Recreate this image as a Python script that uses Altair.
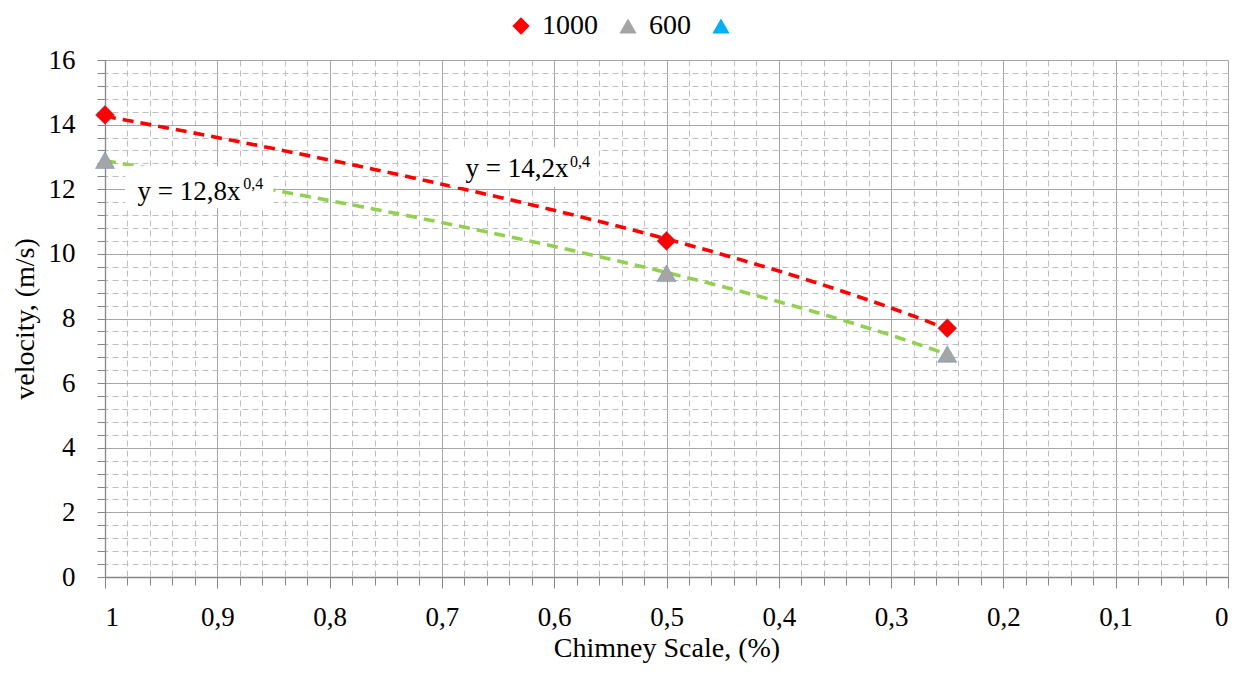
import altair as alt
import pandas as pd
import numpy as np

# ---- data ----
scale_vals = [1.0, 0.5, 0.25]
v_1000 = [14.3, 10.4, 7.7]
v_600 = [12.9, 9.4, 6.9]
series_names = ["1000", "600", "s3"]
series_colors = ["#FF0000", "#A5A5A5", "#00B0F0"]
series_shapes = ["diamond", "triangle-up", "triangle-up"]
trend_colors = ["#FF0000", "#92D050"]

# tick lists
x_ticks = [round(v, 2) for v in np.arange(0, 1.0001, 0.02)]
y_ticks = [round(v, 1) for v in np.arange(0, 16.0001, 0.4)]

# annotations (equation labels)
ann_text = ["y = 14,2x", "y = 12,8x"]
ann_x = [0.679, 0.971]
ann_y = [12.38, 11.67]
sup_text = ["0,4", "0,4"]
sup_x = [0.586, 0.877]
sup_y = [12.68, 12.02]
box_x1 = [0.693, 0.982]
box_x2 = [0.560, 0.850]
box_y1 = [13.30, 12.72]
box_y2 = [12.08, 11.42]

FONT = "Liberation Serif"

df = pd.DataFrame({
    "x": scale_vals * 2,
    "y": v_1000 + v_600,
    "series": ["1000"] * 3 + ["600"] * 3,
})
ann = pd.DataFrame({"x": ann_x, "y": ann_y, "t": ann_text})
sup = pd.DataFrame({"x": sup_x, "y": sup_y, "t": sup_text})
box = pd.DataFrame({"x": box_x1, "x2": box_x2, "y": box_y1, "y2": box_y2})

major_x_test = "abs(datum.value*10 - round(datum.value*10)) < 0.001"
major_y_test = "abs(datum.value/2 - round(datum.value/2)) < 0.001"

x_scale = alt.Scale(domain=[0, 1], reverse=True, nice=False, zero=False)
y_scale = alt.Scale(domain=[0, 16], nice=False)

x_axis = alt.Axis(
    values=x_ticks,
    tickCount=200,
    title="Chimney Scale, (%)",
    labelExpr=f"({major_x_test}) ? replace(format(datum.value, '.1~f'), '.', ',') : ''",
    labelOverlap=False,
    labelFont=FONT, labelFontSize=27, labelColor="#000000", labelPadding=16,
    titleFont=FONT, titleFontSize=28, titleFontWeight="normal", titleColor="#000000",
    titlePadding=4,
    grid=True,
    gridColor={"condition": {"test": major_x_test, "value": "#A6A6A6"}, "value": "#BEBEBE"},
    gridDash={"condition": {"test": major_x_test, "value": []}, "value": [6, 4]},
    gridWidth=1,
    tickColor="#868686",
    tickSize={"condition": {"test": major_x_test, "value": 11}, "value": 8},
    domainColor="#868686", domainWidth=1.3,
)
y_axis = alt.Axis(
    values=y_ticks,
    tickCount=200,
    title="velocity, (m/s)",
    labelExpr=f"({major_y_test}) ? format(datum.value, 'd') : ''",
    labelOverlap=False,
    labelFont=FONT, labelFontSize=27, labelColor="#000000", labelPadding=22,
    titleFont=FONT, titleFontSize=28, titleFontWeight="normal", titleColor="#000000",
    titlePadding=9,
    grid=True,
    gridColor={"condition": {"test": major_y_test, "value": "#A6A6A6"}, "value": "#BEBEBE"},
    gridDash={"condition": {"test": major_y_test, "value": []}, "value": [6, 4]},
    gridWidth=1,
    tickColor="#868686", tickSize=8,
    domainColor="#868686", domainWidth=1.3,
)

X = alt.X("x:Q", scale=x_scale, axis=x_axis)
Y = alt.Y("y:Q", scale=y_scale, axis=y_axis)

base = alt.Chart(df)

trend = base.transform_regression(
    "x", "y", method="pow", groupby=["series"]
).mark_line(strokeDash=[11, 7], strokeWidth=3.6).encode(
    x=X, y=Y,
    stroke=alt.Stroke("series:N", scale=alt.Scale(domain=["1000", "600"], range=trend_colors), legend=None),
)

boxes = alt.Chart(box).mark_rect(fill="white").encode(
    x=X, x2="x2:Q", y=Y, y2="y2:Q",
)

labels = alt.Chart(ann).mark_text(
    font=FONT, fontSize=27, align="left", baseline="alphabetic", color="#000000"
).encode(x=X, y=Y, text="t:N")

sups = alt.Chart(sup).mark_text(
    font=FONT, fontSize=16, align="left", baseline="alphabetic", color="#000000"
).encode(x=X, y=Y, text="t:N")

legend_spec = dict(
    title=None, orient="none", direction="horizontal",
    legendX=402, legendY=-48,
    labelFont=FONT, labelFontSize=28, labelColor="#000000", labelLimit=400,
    labelExpr="datum.label == 's3' ? '' : datum.label",
    symbolSize=300, symbolStrokeWidth=0, labelOffset=7, columnPadding=16,
)

points = base.mark_point(filled=True, opacity=1, size=370, stroke="#4F81BD", strokeWidth=0.4).encode(
    x=X, y=Y,
    fill=alt.Fill(
        "series:N",
        scale=alt.Scale(domain=series_names, range=series_colors),
        legend=alt.Legend(**legend_spec),
    ),
    shape=alt.Shape(
        "series:N",
        scale=alt.Scale(domain=series_names, range=series_shapes),
        legend=alt.Legend(**legend_spec),
    ),
)

chart = alt.layer(trend, boxes, labels, sups, points).properties(
    width=1123, height=517,
    autosize=alt.AutoSizeParams(type="none"),
    padding={"left": 97, "top": 52, "right": 11, "bottom": 88},
).configure_view(stroke=None).configure(
    background="white"
).configure_axis(
    labelFont=FONT, titleFont=FONT
).configure_legend(
    labelFont=FONT
)

chart.save("out.html", embed_options={"renderer": "svg", "actions": False})
